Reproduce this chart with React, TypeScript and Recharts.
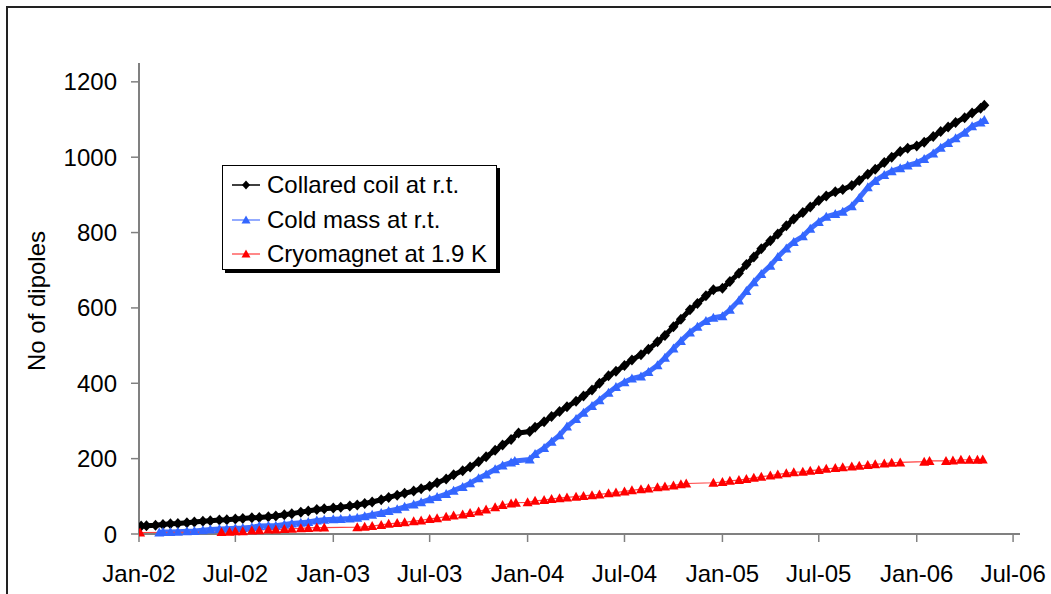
import React from "react";
import { LineChart, Line, XAxis, YAxis, Legend } from "recharts";

// [date, number of dipoles]
const collaredCoil: [string, number][] = [
  ["2002-01-05", 21], ["2002-01-15", 22], ["2002-02-01", 23], ["2002-02-15", 25],
  ["2002-03-01", 27], ["2002-03-15", 28], ["2002-04-01", 30], ["2002-04-15", 32],
  ["2002-05-01", 34], ["2002-05-15", 35], ["2002-06-01", 37], ["2002-06-15", 38],
  ["2002-07-01", 40], ["2002-07-15", 41], ["2002-08-01", 43], ["2002-08-15", 44],
  ["2002-09-01", 46], ["2002-09-15", 48], ["2002-10-01", 51], ["2002-10-15", 54],
  ["2002-11-01", 58], ["2002-11-15", 61], ["2002-12-01", 65], ["2002-12-15", 67],
  ["2003-01-01", 69], ["2003-01-15", 71], ["2003-02-01", 74], ["2003-02-15", 77],
  ["2003-03-01", 81], ["2003-03-15", 85], ["2003-04-01", 91], ["2003-04-15", 97],
  ["2003-05-01", 103], ["2003-05-15", 108], ["2003-06-01", 114], ["2003-06-15", 120],
  ["2003-07-01", 127], ["2003-07-15", 136], ["2003-08-01", 146], ["2003-08-15", 157],
  ["2003-09-01", 168], ["2003-09-15", 178], ["2003-10-01", 192], ["2003-10-15", 205],
  ["2003-11-01", 222], ["2003-11-15", 236], ["2003-12-01", 251], ["2003-12-15", 268],
  ["2004-01-05", 272], ["2004-01-15", 283], ["2004-02-01", 298], ["2004-02-15", 312],
  ["2004-03-01", 325], ["2004-03-15", 338], ["2004-04-01", 352], ["2004-04-15", 366],
  ["2004-05-01", 382], ["2004-05-15", 400], ["2004-06-01", 420], ["2004-06-15", 432],
  ["2004-07-01", 447], ["2004-07-15", 462], ["2004-08-01", 476], ["2004-08-15", 490],
  ["2004-09-01", 510], ["2004-09-15", 527], ["2004-10-01", 550], ["2004-10-15", 570],
  ["2004-11-01", 595], ["2004-11-15", 612], ["2004-12-01", 632], ["2004-12-15", 648],
  ["2005-01-01", 652], ["2005-01-15", 670], ["2005-02-01", 692], ["2005-02-15", 715],
  ["2005-03-01", 735], ["2005-03-15", 757], ["2005-04-01", 778], ["2005-04-15", 796],
  ["2005-05-01", 818], ["2005-05-15", 836], ["2005-06-01", 853], ["2005-06-15", 868],
  ["2005-07-01", 885], ["2005-07-15", 897], ["2005-08-01", 908], ["2005-08-15", 914],
  ["2005-09-01", 925], ["2005-09-15", 938], ["2005-10-01", 955], ["2005-10-15", 968],
  ["2005-11-01", 986], ["2005-11-15", 1000], ["2005-12-01", 1015], ["2005-12-15", 1024],
  ["2006-01-01", 1030], ["2006-01-15", 1040], ["2006-02-01", 1055], ["2006-02-15", 1068],
  ["2006-03-01", 1080], ["2006-03-15", 1092], ["2006-04-01", 1105], ["2006-04-15", 1117],
  ["2006-05-01", 1130], ["2006-05-08", 1138],
];

const coldMass: [string, number][] = [
  ["2002-02-08", 4], ["2002-02-15", 5], ["2002-03-01", 5], ["2002-03-15", 6],
  ["2002-04-01", 7], ["2002-04-15", 8], ["2002-05-01", 10], ["2002-05-15", 12],
  ["2002-06-01", 13], ["2002-06-15", 14], ["2002-07-01", 15], ["2002-07-15", 16],
  ["2002-08-01", 18], ["2002-08-15", 21], ["2002-09-01", 22], ["2002-09-15", 22],
  ["2002-10-01", 25], ["2002-10-15", 28], ["2002-11-01", 30], ["2002-11-15", 32],
  ["2002-12-01", 36], ["2002-12-15", 38], ["2003-01-01", 39], ["2003-01-15", 40],
  ["2003-02-01", 41], ["2003-02-15", 43], ["2003-03-01", 47], ["2003-03-15", 51],
  ["2003-04-01", 56], ["2003-04-15", 61], ["2003-05-01", 66], ["2003-05-15", 72],
  ["2003-06-01", 78], ["2003-06-15", 84], ["2003-07-01", 92], ["2003-07-15", 98],
  ["2003-08-01", 106], ["2003-08-15", 115], ["2003-09-01", 125], ["2003-09-15", 135],
  ["2003-10-01", 148], ["2003-10-15", 158], ["2003-11-01", 172], ["2003-11-15", 182],
  ["2003-12-01", 190], ["2003-12-08", 194], ["2004-01-05", 198], ["2004-01-15", 212],
  ["2004-02-01", 228], ["2004-02-15", 245], ["2004-03-01", 262], ["2004-03-15", 285],
  ["2004-04-01", 305], ["2004-04-15", 322], ["2004-05-01", 340], ["2004-05-15", 355],
  ["2004-06-01", 375], ["2004-06-15", 390], ["2004-07-01", 403], ["2004-07-15", 413],
  ["2004-08-01", 418], ["2004-08-15", 430], ["2004-09-01", 448], ["2004-09-15", 468],
  ["2004-10-01", 492], ["2004-10-15", 512], ["2004-11-01", 535], ["2004-11-15", 550],
  ["2004-12-01", 565], ["2004-12-15", 574], ["2005-01-01", 578], ["2005-01-15", 595],
  ["2005-02-01", 620], ["2005-02-15", 645], ["2005-03-01", 668], ["2005-03-15", 690],
  ["2005-04-01", 712], ["2005-04-15", 735], ["2005-05-01", 758], ["2005-05-15", 775],
  ["2005-06-01", 790], ["2005-06-15", 810], ["2005-07-01", 828], ["2005-07-15", 842],
  ["2005-08-01", 849], ["2005-08-15", 855], ["2005-09-01", 870], ["2005-09-15", 892],
  ["2005-10-01", 920], ["2005-10-15", 937], ["2005-11-01", 953], ["2005-11-15", 963],
  ["2005-12-01", 971], ["2005-12-15", 978], ["2006-01-01", 985], ["2006-01-15", 995],
  ["2006-02-01", 1010], ["2006-02-15", 1025], ["2006-03-01", 1038], ["2006-03-15", 1050],
  ["2006-04-01", 1065], ["2006-04-15", 1082], ["2006-05-01", 1092], ["2006-05-08", 1099],
];

const cryomagnet: [string, number][] = [
  ["2002-01-03", 4], ["2002-06-05", 5], ["2002-06-20", 6], ["2002-07-01", 7],
  ["2002-07-15", 7], ["2002-08-01", 9], ["2002-08-15", 10], ["2002-09-01", 12],
  ["2002-09-15", 12], ["2002-10-01", 13], ["2002-10-15", 14], ["2002-11-01", 15],
  ["2002-11-15", 16], ["2002-12-01", 17], ["2002-12-15", 17], ["2003-02-15", 18],
  ["2003-03-01", 19], ["2003-03-15", 21], ["2003-04-01", 24], ["2003-04-15", 27],
  ["2003-05-01", 29], ["2003-05-15", 31], ["2003-06-01", 34], ["2003-06-15", 36],
  ["2003-07-01", 40], ["2003-07-15", 42], ["2003-08-01", 46], ["2003-08-15", 49],
  ["2003-09-01", 52], ["2003-09-15", 56], ["2003-10-01", 60], ["2003-10-15", 65],
  ["2003-11-01", 71], ["2003-11-15", 77], ["2003-12-01", 81], ["2003-12-10", 83],
  ["2004-01-01", 84], ["2004-01-15", 88], ["2004-02-01", 90], ["2004-02-15", 93],
  ["2004-03-01", 95], ["2004-03-15", 97], ["2004-04-01", 99], ["2004-04-15", 101],
  ["2004-05-01", 103], ["2004-05-15", 105], ["2004-06-01", 108], ["2004-06-15", 110],
  ["2004-07-01", 113], ["2004-07-15", 116], ["2004-08-01", 119], ["2004-08-15", 121],
  ["2004-09-01", 124], ["2004-09-15", 126], ["2004-10-01", 129], ["2004-10-15", 132],
  ["2004-10-25", 134], ["2004-12-15", 136], ["2005-01-01", 138], ["2005-01-15", 141],
  ["2005-02-01", 143], ["2005-02-15", 146], ["2005-03-01", 149], ["2005-03-15", 152],
  ["2005-04-01", 155], ["2005-04-15", 158], ["2005-05-01", 161], ["2005-05-15", 164],
  ["2005-06-01", 165], ["2005-06-15", 168], ["2005-07-01", 170], ["2005-07-15", 173],
  ["2005-08-01", 175], ["2005-08-15", 177], ["2005-09-01", 179], ["2005-09-15", 181],
  ["2005-10-01", 183], ["2005-10-15", 185], ["2005-11-01", 187], ["2005-11-15", 189],
  ["2005-12-01", 190], ["2006-01-15", 192], ["2006-01-25", 194], ["2006-02-25", 194],
  ["2006-03-10", 195], ["2006-03-25", 197], ["2006-04-10", 197], ["2006-04-25", 197],
  ["2006-05-05", 198],
];

const xTicks = [
  "2002-01-01", "2002-07-01", "2003-01-01", "2003-07-01", "2004-01-01",
  "2004-07-01", "2005-01-01", "2005-07-01", "2006-01-01", "2006-07-01",
];
const yTicks = [0, 200, 400, 600, 800, 1000, 1200];
const monthNames = ["Jan", "Feb", "Mar", "Apr", "May", "Jun", "Jul", "Aug", "Sep", "Oct", "Nov", "Dec"];

const FONT = "'Liberation Sans', Arial, sans-serif";
const DAY = 86400000;
const start = Date.UTC(2002, 0, 1);

const toPoints = (rows: [string, number][]) => rows.map(([d, v]) => ({ t: Date.parse(d), v }));

const fmtDate = (t: number) => {
  const d = new Date(t);
  return monthNames[d.getUTCMonth()] + "-" + String(d.getUTCFullYear()).slice(2);
};

const Diamond = ({ cx, cy, fill, r = 4.5 }: any) =>
  cx == null || cy == null ? null : (
    <polygon points={`${cx},${cy - r - 0.5} ${cx + r},${cy} ${cx},${cy + r + 0.5} ${cx - r},${cy}`} fill={fill} />
  );

const Triangle = ({ cx, cy, fill, r = 4.5 }: any) =>
  cx == null || cy == null ? null : (
    <polygon points={`${cx},${cy - r} ${cx + r},${cy + r * 0.8} ${cx - r},${cy + r * 0.8}`} fill={fill} />
  );

const legendItems = [
  { label: "Collared coil at r.t.", line: "#000000", fill: "#000000", shape: "diamond" },
  { label: "Cold mass at r.t.", line: "#6f8fff", fill: "#3366ff", shape: "triangle" },
  { label: "Cryomagnet at 1.9 K", line: "#ff6060", fill: "#ff0000", shape: "triangle" },
];

function LegendBox() {
  return (
    <div
      style={{
        width: 273,
        height: 103,
        border: "1px solid #000",
        boxShadow: "3px 3px 0 #000",
        background: "#fff",
        fontFamily: FONT,
        fontSize: 24,
        color: "#000",
        boxSizing: "content-box",
      }}
    >
      {legendItems.map((it, i) => (
        <div key={i} style={{ display: "flex", alignItems: "center", height: 34.5, marginTop: i === 0 ? 2 : 0 }}>
          <svg width={44} height={20} style={{ flexShrink: 0 }}>
            <line x1={9} y1={10} x2={37} y2={10} stroke={it.line} strokeWidth={1.5} />
            {it.shape === "diamond" ? (
              <Diamond cx={23} cy={10} fill={it.fill} r={4} />
            ) : (
              <Triangle cx={23} cy={10} fill={it.fill} r={4.5} />
            )}
          </svg>
          <span style={{ whiteSpace: "nowrap", lineHeight: "24px" }}>{it.label}</span>
        </div>
      ))}
    </div>
  );
}

export default function App() {
  return (
    <div style={{ position: "fixed", left: 0, top: 0, width: 1051, height: 594, overflow: "hidden", background: "#fff" }}>
      <div
        style={{
          position: "absolute",
          left: 6,
          top: 6,
          width: 1100,
          height: 650,
          border: "2px solid #222",
        }}
      />
      <div style={{ position: "absolute", left: 0, top: 0 }}>
        <LineChart width={1051} height={594} margin={{ top: 63, right: 31, bottom: 0, left: 0 }}>
          <XAxis
            type="number"
            dataKey="t"
            domain={[start, start + 1655 * DAY]}
            ticks={xTicks.map((d) => Date.parse(d))}
            tickFormatter={fmtDate}
            allowDataOverflow
            height={60}
            tickSize={8}
            tickMargin={23}
            axisLine={{ stroke: "#808080", strokeWidth: 2 }}
            tickLine={{ stroke: "#808080", strokeWidth: 1.5 }}
            tick={{ fontSize: 24, fill: "#000", fontFamily: FONT }}
          />
          <YAxis
            type="number"
            domain={[0, 1250]}
            ticks={yTicks}
            width={139}
            tickSize={8}
            tickMargin={14}
            axisLine={{ stroke: "#808080", strokeWidth: 2 }}
            tickLine={{ stroke: "#808080", strokeWidth: 1.5 }}
            tick={{ fontSize: 24, fill: "#000", fontFamily: FONT }}
            label={{
              content: () => (
                <text
                  x={36}
                  y={301}
                  transform="rotate(-90, 36, 301)"
                  textAnchor="middle"
                  dominantBaseline="central"
                  fontSize={24}
                  fontFamily={FONT}
                  fill="#000"
                >
                  No of dipoles
                </text>
              ),
            }}
          />
          <Legend
            layout="horizontal"
            verticalAlign="middle"
            align="center"
            wrapperStyle={{ position: "absolute", left: 222, top: 165, width: "auto", height: "auto" }}
            content={() => <LegendBox />}
          />
          <Line
            data={toPoints(collaredCoil)}
            dataKey="v"
            name="Collared coil at r.t."
            type="linear"
            stroke="#000"
            strokeWidth={5}
            strokeLinejoin="round"
            dot={(p: any) => <Diamond key={p.index} cx={p.cx} cy={p.cy} fill="#000" r={5} />}
            activeDot={false}
            isAnimationActive={false}
          />
          <Line
            data={toPoints(coldMass)}
            dataKey="v"
            name="Cold mass at r.t."
            type="linear"
            stroke="#3d6cff"
            strokeWidth={5}
            strokeLinejoin="round"
            dot={(p: any) => <Triangle key={p.index} cx={p.cx} cy={p.cy} fill="#3366ff" r={5} />}
            activeDot={false}
            isAnimationActive={false}
          />
          <Line
            data={toPoints(cryomagnet)}
            dataKey="v"
            name="Cryomagnet at 1.9 K"
            type="linear"
            stroke="#ff4040"
            strokeWidth={1.2}
            dot={(p: any) => <Triangle key={p.index} cx={p.cx} cy={p.cy} fill="#ff0000" r={5} />}
            activeDot={false}
            isAnimationActive={false}
          />
        </LineChart>
      </div>
    </div>
  );
}
